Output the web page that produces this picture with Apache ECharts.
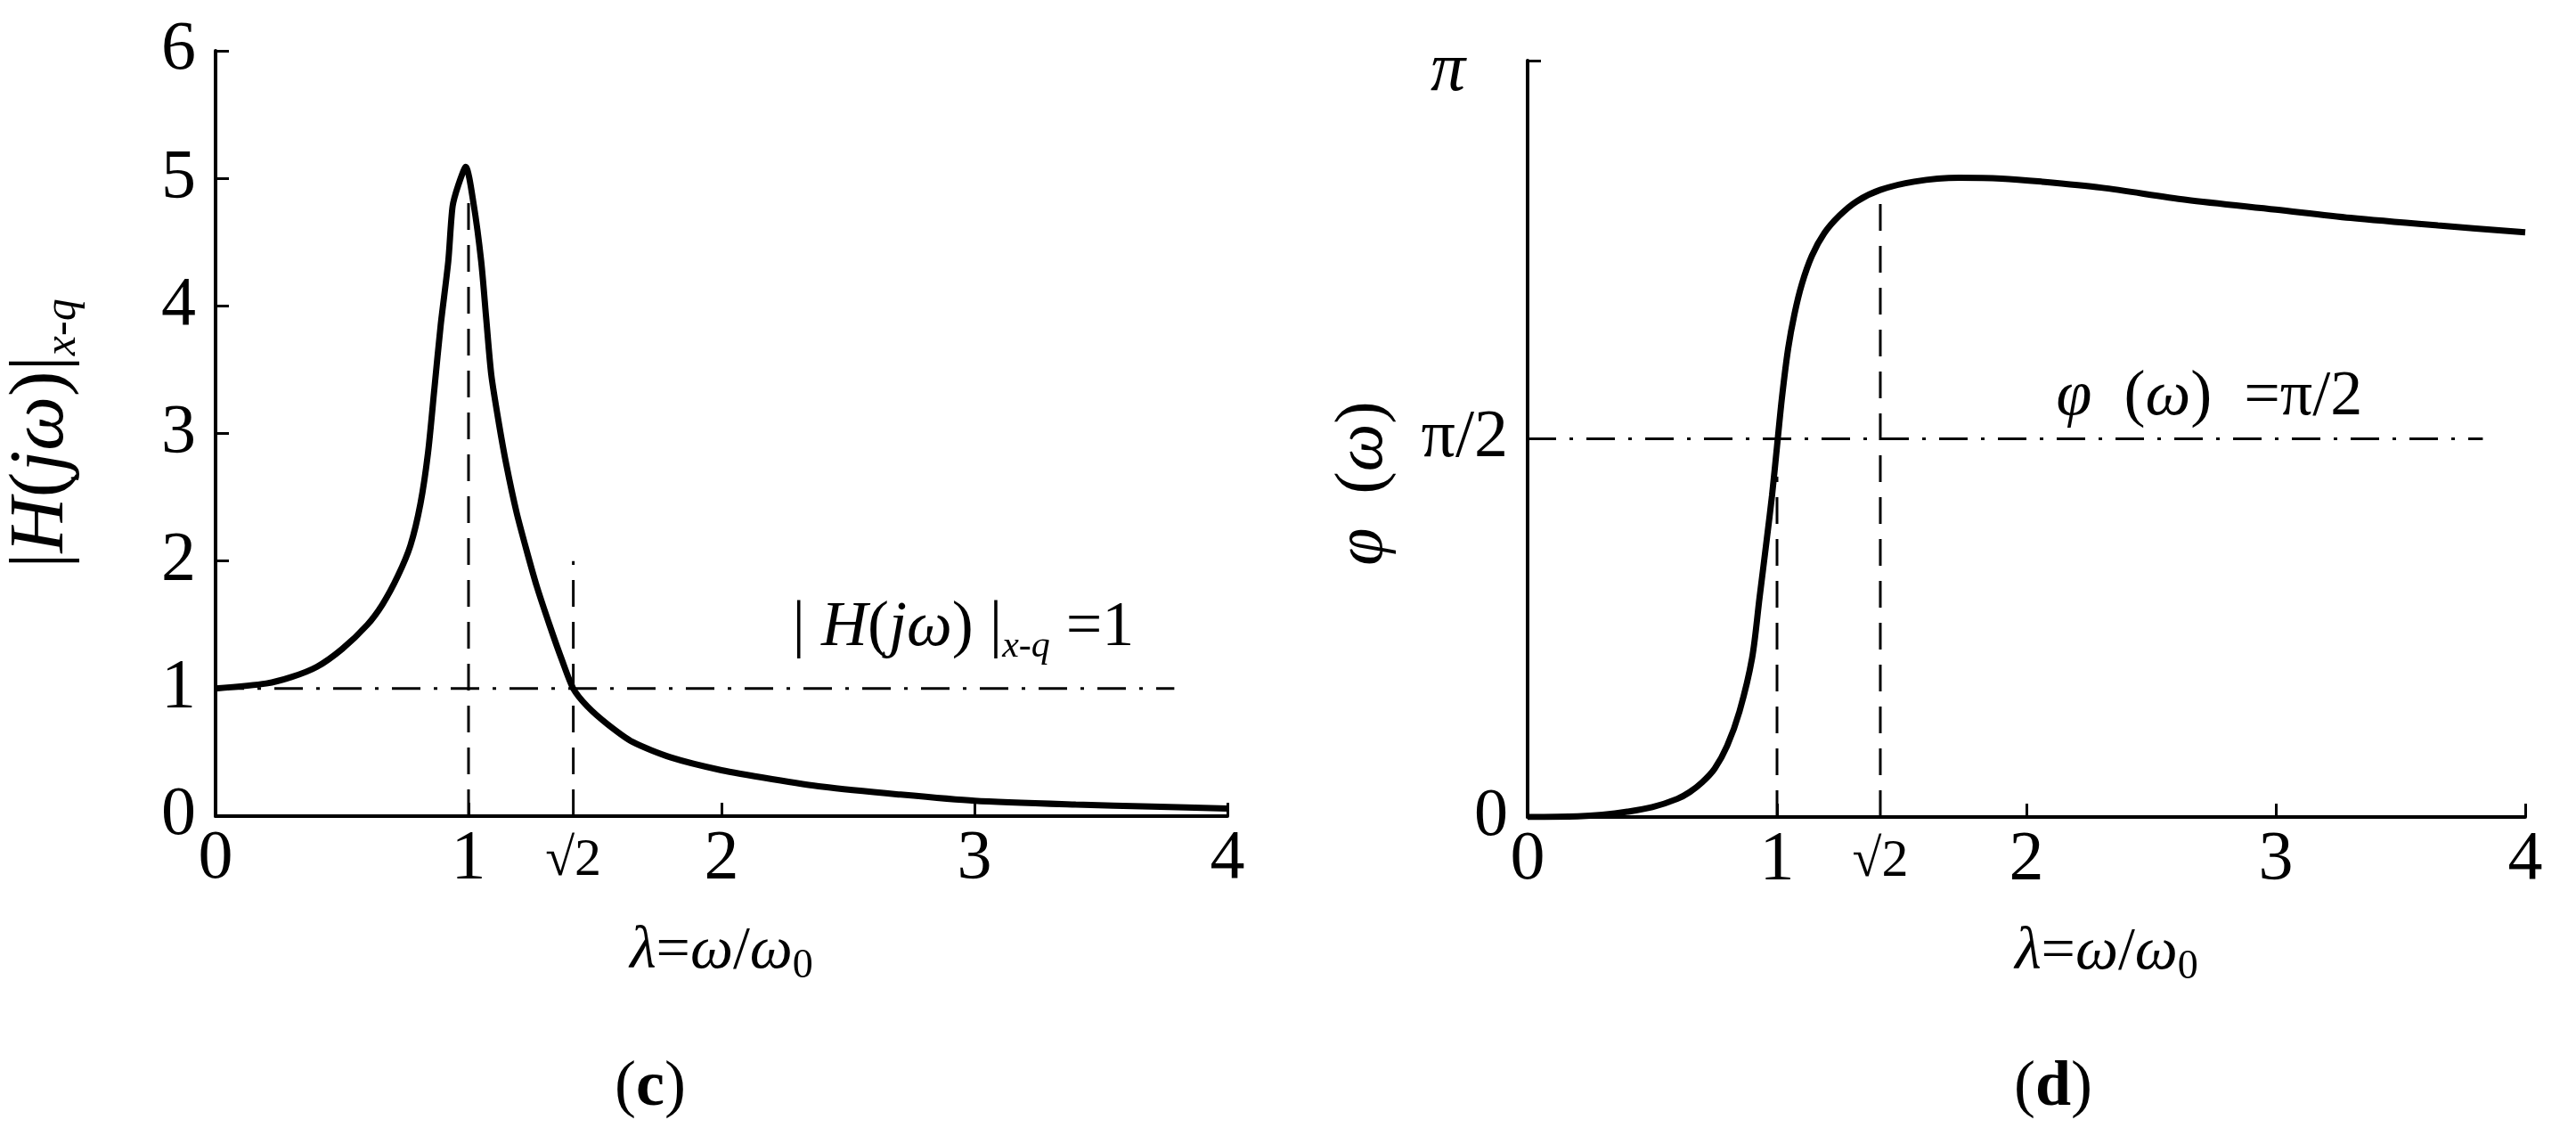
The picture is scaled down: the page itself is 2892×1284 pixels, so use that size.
<!DOCTYPE html>
<html>
<head>
<meta charset="utf-8">
<title>Amplitude and phase response</title>
<script src="https://cdn.jsdelivr.net/npm/echarts@6/dist/echarts.min.js"></script>
<style>
  html, body { margin: 0; padding: 0; background: #fff; }
  #chart { width: 2892px; height: 1284px; }
</style>
</head>
<body>
<div id="chart"></div>
<script>
// frequency ratio λ = ω/ω0 ticks (√2 is marked on the axis)
const SQRT2 = Math.SQRT2
const lambdaTicks = [0, 1, SQRT2, 2, 3, 4]
const lambdaTickLabels = ['0', '1', '√2', '2', '3', '4']
const magTicks = [0, 1, 2, 3, 4, 5, 6]
const phaseTicks = [0, 0.5, 1] // in units of π
const phaseTickLabels = ['0', 'π/2', 'π']

// (c) amplitude |H(jω)|x-q
const lambdaMag = [0, 0.2, 0.3, 0.4, 0.5, 0.6, 0.66, 0.72, 0.77, 0.81, 0.84, 0.865, 0.89, 0.92, 0.937, 0.96, 0.989, 1.02, 1.05, 1.07, 1.09, 1.12, 1.15, 1.19, 1.23, 1.27, 1.32, 1.37, 1.414, 1.47, 1.55, 1.65, 1.8, 2.0, 2.2, 2.4, 2.7, 3.0, 3.4, 3.7, 4.0]
const magnitude = [1.0, 1.04, 1.09, 1.17, 1.31, 1.5, 1.66, 1.88, 2.12, 2.45, 2.85, 3.35, 3.85, 4.35, 4.78, 4.95, 5.09, 4.8, 4.35, 3.9, 3.46, 3.08, 2.75, 2.38, 2.08, 1.8, 1.5, 1.22, 1.0, 0.86, 0.72, 0.58, 0.46, 0.36, 0.29, 0.23, 0.17, 0.12, 0.09, 0.075, 0.06]

// (d) phase φ(ω) in units of π
const lambdaPhase = [0, 0.2, 0.3, 0.4, 0.5, 0.6, 0.65, 0.7, 0.75, 0.8, 0.85, 0.9, 0.93, 0.96, 0.98, 1.0, 1.02, 1.045, 1.07, 1.1, 1.14, 1.19, 1.25, 1.32, 1.414, 1.55, 1.73, 1.9, 2.06, 2.3, 2.64, 3.0, 3.3, 3.65, 4.0]
const phase = [0, 0.001, 0.003, 0.007, 0.013, 0.024, 0.033, 0.046, 0.064, 0.094, 0.14, 0.21, 0.29, 0.37, 0.425, 0.49, 0.555, 0.62, 0.665, 0.705, 0.742, 0.772, 0.795, 0.814, 0.829, 0.84, 0.845, 0.844, 0.84, 0.832, 0.816, 0.803, 0.792, 0.782, 0.773]

// guide lines: vertical dashed at λ=1 and λ=√2, horizontal dash-dot
const guideLambda = [1, SQRT2]
const magGuideTop = [4.9, 2.0]
const phaseGuideTop = [0.45, 0.828]
const magLevel = 1
const magLevelEnd = 3.79
const phaseLevel = 0.5
const phaseLevelEnd = 3.83

const FONT = "'Liberation Serif', 'Times New Roman', serif"
const zip = (a, b) => a.map((v, i) => [v, b[i]])

const chart = echarts.init(document.getElementById('chart'))

const richBig = (size) => ({
  i: { fontFamily: FONT, fontSize: size, fontStyle: 'italic', color: '#000', lineHeight: size + 12 },
  n: { fontFamily: FONT, fontSize: size, color: '#000', lineHeight: size + 12 },
  s: { fontFamily: FONT, fontSize: Math.round(size * 0.58), fontStyle: 'italic', color: '#000', lineHeight: size - 8, verticalAlign: 'bottom' },
  sub: { fontFamily: FONT, fontSize: Math.round(size * 0.68), color: '#000', lineHeight: size - 2, verticalAlign: 'bottom' },
})

const xAxisBase = (gridIndex, namePadding) => ({
  type: 'value',
  gridIndex,
  min: 0,
  max: 4,
  name: '{i|λ}{n|=}{i|ω}{n|/}{i|ω}{sub|0}',
  nameLocation: 'middle',
  nameGap: 112,
  nameTextStyle: { padding: namePadding, rich: richBig(68) },
  splitLine: { show: false },
  axisLine: { show: true, lineStyle: { color: '#000', width: 4 } },
  axisTick: { show: true, inside: true, length: 15, customValues: [1, 2, 3, 4], lineStyle: { color: '#000', width: 3 } },
  axisLabel: {
    customValues: lambdaTicks,
    margin: 10,
    formatter: (v) => {
      const k = lambdaTicks.findIndex((t) => Math.abs(t - v) < 1e-6)
      const s = k >= 0 ? lambdaTickLabels[k] : ''
      return s === '√2' ? '{r|' + s + '}' : s
    },
    fontFamily: FONT,
    fontSize: 78,
    color: '#000',
    rich: { r: { fontFamily: FONT, fontSize: 60, color: '#000', padding: [10, 0, 0, 0] } },
  },
})

const dashedGuide = (xi, yi, x, top) => ({
  type: 'line',
  xAxisIndex: xi,
  yAxisIndex: yi,
  data: [[x, 0], [x, top]],
  showSymbol: false,
  silent: true,
  z: 1,
  lineStyle: { color: '#000', width: 3, type: [30, 17] },
})

const caption = (x, letter) => ({
  type: 'text',
  x,
  y: 1221,
  style: {
    text: '{p|(}{b|' + letter + '}{p|)}',
    align: 'center',
    verticalAlign: 'middle',
    rich: {
      p: { fontFamily: FONT, fontSize: 72, fill: '#000' },
      b: { fontFamily: FONT, fontSize: 72, fontWeight: 'bold', fill: '#000' },
    },
  },
})

chart.setOption({
  animation: false,
  backgroundColor: '#fff',
  textStyle: { fontFamily: FONT, color: '#000' },
  grid: [
    { left: 242, top: 57, width: 1136, height: 859, outerBoundsMode: 'none' },
    { left: 1715, top: 68, width: 1120, height: 849, outerBoundsMode: 'none' },
  ],
  xAxis: [xAxisBase(0, [0, 0, 0, 0]), xAxisBase(1, [0, 0, 0, 180])],
  yAxis: [
    {
      type: 'value',
      gridIndex: 0,
      min: 0,
      max: 6,
      interval: 1,
      name: '{n||}{i|H}{n|(}{i|jω}{n|)|}{s|x-q}',
      nameLocation: 'middle',
      nameRotate: 90,
      nameGap: 146,
      nameTextStyle: { rich: richBig(86) },
      splitLine: { show: false },
      axisLine: { show: true, lineStyle: { color: '#000', width: 4 } },
      axisTick: { show: true, inside: true, length: 15, customValues: [1, 2, 3, 4, 5, 6], lineStyle: { color: '#000', width: 3 } },
      axisLabel: { customValues: magTicks, margin: 22, fontFamily: FONT, fontSize: 78, color: '#000' },
    },
    {
      type: 'value',
      gridIndex: 1,
      min: 0,
      max: 1,
      name: '{i|φ}{n|  (}{i|ω}{n|)}',
      nameLocation: 'middle',
      nameRotate: 90,
      nameGap: 140,
      nameTextStyle: { padding: [0, 100, 0, 0], rich: richBig(76) },
      splitLine: { show: false },
      axisLine: { show: true, lineStyle: { color: '#000', width: 4 } },
      axisTick: { show: true, inside: true, length: 15, customValues: [0.5, 1], lineStyle: { color: '#000', width: 3 } },
      axisLabel: {
        customValues: phaseTicks,
        margin: 22,
        fontFamily: FONT,
        fontSize: 76,
        color: '#000',
        formatter: (v) => {
          const k = phaseTicks.findIndex((t) => Math.abs(t - v) < 1e-6)
          const s = k >= 0 ? phaseTickLabels[k] : ''
          return s === 'π' ? '{pi|π}' : s
        },
        rich: { pi: { fontFamily: FONT, fontSize: 78, fontStyle: 'italic', color: '#000', padding: [24, 48, 0, 0] } },
      },
    },
  ],
  series: [
    dashedGuide(0, 0, guideLambda[0], magGuideTop[0]),
    dashedGuide(0, 0, guideLambda[1], magGuideTop[1]),
    dashedGuide(1, 1, guideLambda[0], phaseGuideTop[0]),
    dashedGuide(1, 1, guideLambda[1], phaseGuideTop[1]),
    {
      type: 'line',
      xAxisIndex: 0,
      yAxisIndex: 0,
      data: [[0, magLevel], [magLevelEnd, magLevel]],
      showSymbol: false,
      silent: true,
      z: 1,
      lineStyle: { color: '#000', width: 3, type: [32, 15, 4, 15] },
      markPoint: {
        symbol: 'circle',
        symbolSize: 0,
        silent: true,
        data: [{
          coord: [2.28, magLevel],
          label: {
            show: true,
            position: 'right',
            distance: 0,
            offset: [0, -68],
            formatter: '{n|| }{i|H}{n|(}{i|jω}{n|) |}{s|x-q}{n| =1}',
            rich: richBig(72),
          },
        }],
      },
    },
    {
      type: 'line',
      xAxisIndex: 1,
      yAxisIndex: 1,
      data: [[0, phaseLevel], [phaseLevelEnd, phaseLevel]],
      showSymbol: false,
      silent: true,
      z: 1,
      lineStyle: { color: '#000', width: 3, type: [32, 15, 4, 15] },
      markPoint: {
        symbol: 'circle',
        symbolSize: 0,
        silent: true,
        data: [{
          coord: [2.12, phaseLevel],
          label: {
            show: true,
            position: 'right',
            distance: 0,
            offset: [0, -46],
            formatter: '{i|φ}{n|  (}{i|ω}{n|)  =π/2}',
            rich: richBig(72),
          },
        }],
      },
    },
    {
      type: 'line',
      name: '|H(jω)|x-q',
      xAxisIndex: 0,
      yAxisIndex: 0,
      data: zip(lambdaMag, magnitude),
      showSymbol: false,
      smooth: 0.25,
      z: 3,
      lineStyle: { color: '#000', width: 7 },
    },
    {
      type: 'line',
      name: 'φ(ω)',
      xAxisIndex: 1,
      yAxisIndex: 1,
      data: zip(lambdaPhase, phase),
      showSymbol: false,
      smooth: 0.3,
      z: 3,
      lineStyle: { color: '#000', width: 7 },
    },
  ],
  graphic: [caption(730, 'c'), caption(2305, 'd')],
})
</script>
</body>
</html>
